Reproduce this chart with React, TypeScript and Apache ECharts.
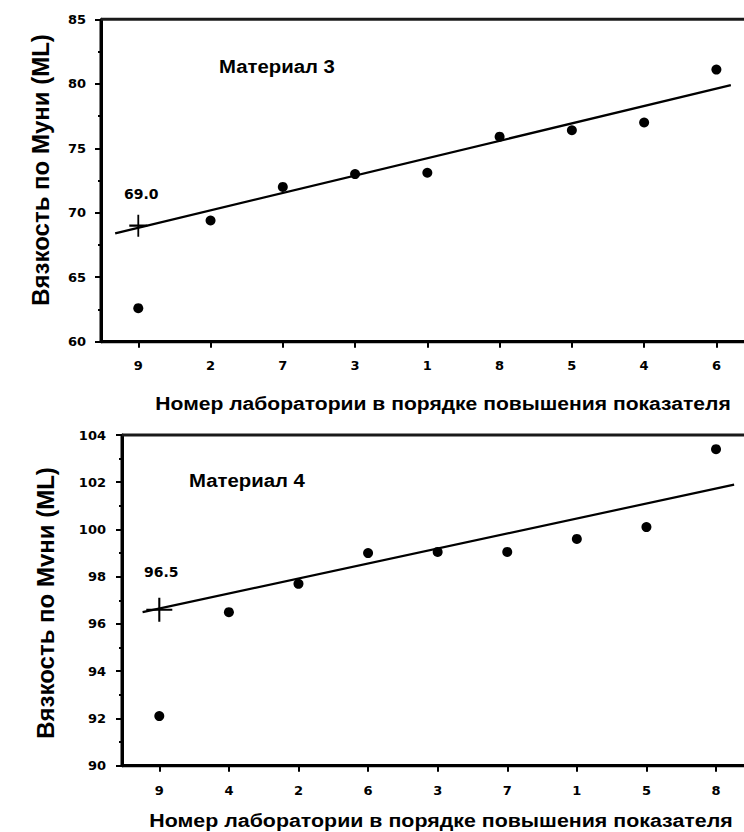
import React, { useEffect, useRef } from "react";
import * as echarts from "echarts";

// ---- Data ----
const labsTop = ["9", "2", "7", "3", "1", "8", "5", "4", "6"];
const valuesTop = [62.6, 69.4, 72.0, 73.0, 73.1, 75.9, 76.4, 77.0, 81.1];
const crossTop = 69.0;
const crossTopLabel = "69.0";
const trendTop = [
  [-0.32, 68.4],
  [8.2, 79.9],
];
const yTicksTop = { min: 60, max: 85, interval: 5 };
const xRangeTop = { min: -0.516, max: 8.382 };

const labsBottom = ["9", "4", "2", "6", "3", "7", "1", "5", "8"];
const valuesBottom = [92.1, 96.5, 97.7, 99.0, 99.05, 99.05, 99.6, 100.1, 103.4];
const crossBottom = 96.6;
const crossBottomLabel = "96.5";
const trendBottom = [
  [-0.24, 96.5],
  [8.26, 101.9],
];
const yTicksBottom = { min: 90, max: 104, interval: 2 };
const xRangeBottom = { min: -0.536, max: 8.402 };

const titleTop = "Материал 3";
const titleBottom = "Материал 4";
const yNameTop = "Вязкость по Муни (ML)";
const yNameBottom = "Вязкость по Мvни (ML)";
const xName = "Номер лаборатории в порядке повышения показателя";

const BOLD = "bold";
const SANS = "Liberation Sans, Arial, sans-serif";
const TICKFONT = "DejaVu Sans, sans-serif";

export default function App() {
  const ref = useRef<HTMLDivElement>(null);
  useEffect(() => {
    if (!ref.current) return;
    const chart = echarts.init(ref.current, null, { renderer: "svg" });

    const labX = (gridIndex: number, labs: string[], range: { min: number; max: number }, margin: number) => {
      const idx = labs.map((_, i) => i);
      return {
        type: "value",
        gridIndex,
        position: "bottom",
        min: range.min,
        max: range.max,
        axisLine: { show: true, onZero: false, lineStyle: { color: "#000", width: 3 } },
        axisTick: { show: true, customValues: idx, length: 6, lineStyle: { color: "#000", width: 2 } },
        axisLabel: {
          show: true,
          customValues: idx,
          formatter: (v: number) => labs[Math.round(v)] ?? "",
          color: "#000",
          fontWeight: BOLD,
          fontSize: 13,
          fontFamily: TICKFONT,
          margin,
        },
        splitLine: { show: false },
      };
    };
    const yAxis = (gridIndex: number, t: { min: number; max: number; interval: number }, margin: number) => ({
      type: "value",
      gridIndex,
      position: "left",
      min: t.min,
      max: t.max,
      interval: t.interval,
      axisLine: { show: true, onZero: false, lineStyle: { color: "#000", width: 3 } },
      axisTick: { show: true, length: 6, lineStyle: { color: "#000", width: 2 } },
      minorTick: { show: true, splitNumber: 2, length: 3, lineStyle: { color: "#000", width: 2 } },
      axisLabel: { color: "#000", fontWeight: BOLD, fontSize: 13, fontFamily: TICKFONT, margin },
      splitLine: { show: false },
    });

    const dots = (xAxisIndex: number, yAxisIndex: number, values: number[]) => ({
      type: "scatter",
      xAxisIndex,
      yAxisIndex,
      data: values.map((v, i) => [i, v]),
      symbol: "circle",
      symbolSize: 10,
      itemStyle: { color: "#000", opacity: 1 },
    });
    const cross = (
      xAxisIndex: number,
      yAxisIndex: number,
      v: number,
      label: string,
      size: number[],
      dist: number,
      off: number[]
    ) => ({
      type: "scatter",
      xAxisIndex,
      yAxisIndex,
      data: [[0, v]],
      symbol: "path://M10,0L10,20M0,10L20,10",
      symbolSize: size,
      itemStyle: { color: "none", borderColor: "#000", borderWidth: 2, opacity: 1 },
      label: {
        show: true,
        formatter: () => label,
        position: "top",
        distance: dist,
        offset: off,
        color: "#000",
        fontWeight: BOLD,
        fontSize: 14,
        fontFamily: TICKFONT,
      },
    });
    const trend = (xAxisIndex: number, yAxisIndex: number, pts: number[][]) => ({
      type: "line",
      xAxisIndex,
      yAxisIndex,
      data: pts,
      showSymbol: false,
      symbol: "none",
      clip: false,
      lineStyle: { color: "#000", width: 2.2 },
    });

    const hText = (text: string, x: number, y: number, size: number, sx: number, align = "left") => ({
      type: "text",
      x,
      y,
      scaleX: sx,
      style: {
        text,
        fill: "#000",
        font: `bold ${size}px ${SANS}`,
        textAlign: align,
        textVerticalAlign: "middle",
      },
    });
    const vText = (text: string, x: number, y: number, size: number) => ({
      type: "text",
      x,
      y,
      rotation: Math.PI / 2,
      style: {
        text,
        fill: "#000",
        font: `bold ${size}px ${SANS}`,
        textAlign: "center",
        textVerticalAlign: "middle",
      },
    });

    const texts = [
      hText(titleTop, 219, 67, 18, 1.13),
      hText(titleBottom, 189, 481, 18, 1.13),
      vText(yNameTop, 40, 170, 24),
      vText(yNameBottom, 45, 603, 24),
      hText(xName, 443, 403, 19, 1.11, "center"),
      hText(xName, 441, 820, 19, 1.125, "center"),
    ];

    const option = {
      animation: false,
      backgroundColor: "#fff",
      grid: [
        { left: 101, right: 0, top: 19.3, height: 322.4 },
        { left: 122, right: 0, top: 435, height: 330.7 },
      ],
      xAxis: [labX(0, labsTop, xRangeTop, 17), labX(1, labsBottom, xRangeBottom, 18)],
      yAxis: [yAxis(0, yTicksTop, 15), yAxis(1, yTicksBottom, 16)],
      series: [
        trend(0, 0, trendTop),
        dots(0, 0, valuesTop),
        cross(0, 0, crossTop, crossTopLabel, [18, 22], 11, [3, 0]),
        trend(1, 1, trendBottom),
        dots(1, 1, valuesBottom),
        cross(1, 1, crossBottom, crossBottomLabel, [26, 24], 16, [2, 0]),
      ],
      graphic: texts,
    };
    chart.setOption(option as any);

    // Plot frames (left, bottom, top edges) from the axes' own scales
    const frame = (ax: number, xr: { min: number; max: number }, yr: { min: number; max: number }) => {
      const px = (x: number, y: number) =>
        chart.convertToPixel({ xAxisIndex: ax, yAxisIndex: ax } as any, [x, y]) as number[];
      const bl = px(xr.min, yr.min);
      const tl = px(xr.min, yr.max);
      const br = px(xr.max, yr.min);
      const tr = px(xr.max, yr.max);
      const ln = (a: number[], b: number[], color: string, w: number) => ({
        type: "line",
        z: 10,
        silent: true,
        shape: { x1: a[0], y1: a[1], x2: b[0], y2: b[1] },
        style: { stroke: color, lineWidth: w },
      });
      return [ln(bl, tl, "#000", 3), ln(bl, br, "#000", 3), ln(tl, tr, "#1a1a1a", 3)];
    };
    chart.setOption({
      graphic: [...texts, ...frame(0, xRangeTop, yTicksTop), ...frame(1, xRangeBottom, yTicksBottom)],
    } as any);

    return () => chart.dispose();
  }, []);
  return (
    <div
      ref={ref}
      style={{ position: "fixed", left: 0, top: 0, width: 744, height: 832, background: "#fff" }}
    />
  );
}
